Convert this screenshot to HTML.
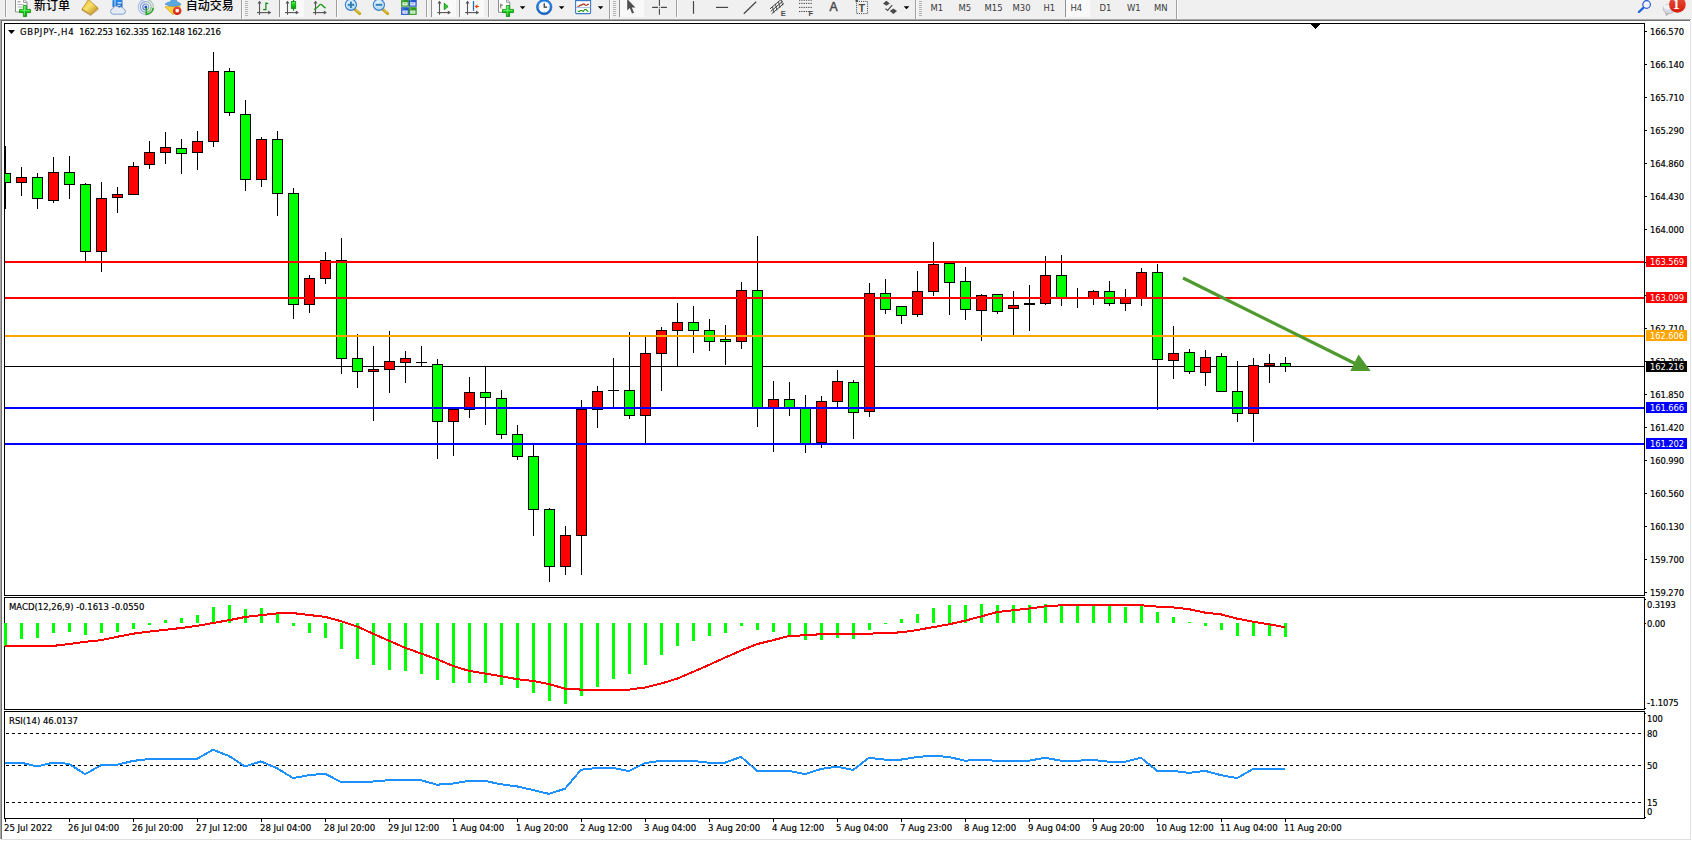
<!DOCTYPE html>
<html lang="zh-CN">
<head>
<meta charset="utf-8">
<title>GBPJPY-,H4</title>
<style>
html,body{margin:0;padding:0;background:#fff;}
body{width:1692px;height:841px;position:relative;overflow:hidden;font-family:"Liberation Sans","Noto Sans CJK SC",sans-serif;}
#g{position:absolute;left:0;top:0;display:block;}
.t{position:absolute;font-family:"DejaVu Sans Condensed","Liberation Sans",sans-serif;font-size:9.45px;line-height:12px;height:12px;color:#000;white-space:pre;-webkit-text-stroke:0.18px #000;}
.p{font-size:9.3px;letter-spacing:-0.1px;}
.tm{font-size:9.5px;}
.pb{position:absolute;left:1646px;width:41px;height:11px;overflow:hidden;}
.pb span{position:absolute;left:4px;top:0px;font-family:"DejaVu Sans Condensed","Liberation Sans",sans-serif;font-size:9.3px;letter-spacing:-0.1px;line-height:12px;color:#fff;white-space:pre;}
.tb{position:absolute;font-family:"DejaVu Sans Condensed","Liberation Sans",sans-serif;font-size:9.4px;line-height:12px;color:#3a3a3a;white-space:pre;top:2px;}
.cj{position:absolute;font-size:12px;line-height:16px;font-weight:500;color:#000;white-space:pre;font-family:"Liberation Sans","Noto Sans CJK SC",sans-serif;}
.ic{position:absolute;color:#4a4a4a;white-space:pre;font-family:"Liberation Sans",sans-serif;}
</style>
</head>
<body>
<svg id="g" width="1692" height="841" viewBox="0 0 1692 841" shape-rendering="crispEdges">
<rect x="0" y="0" width="1692" height="841" fill="#fff"/>
<rect x="0" y="0" width="1692" height="19" fill="#f0f0f0"/>
<rect x="0" y="19" width="1691" height="1" fill="#a8a8a8"/>
<rect x="0" y="20" width="1690" height="1" fill="#6e6e6e"/>
<rect x="0" y="20" width="1" height="819" fill="#a8a8a8"/>
<rect x="1" y="20" width="1" height="819" fill="#707070"/>
<rect x="1690" y="21" width="1" height="819" fill="#e0e0e0"/>
<rect x="1" y="839" width="1690" height="1" fill="#e0e0e0"/>
<rect x="5" y="366" width="1640" height="1" fill="#000"/>
<clipPath id="cp"><rect x="5" y="24" width="1639" height="571"/></clipPath>
<g id="candles" clip-path="url(#cp)">
<rect x="5" y="146" width="1" height="63" fill="#000"/>
<rect x="0" y="173" width="11" height="10" fill="#000"/>
<rect x="1" y="174" width="9" height="8" fill="#00ff00"/>
<rect x="21" y="167" width="1" height="29" fill="#000"/>
<rect x="16" y="177" width="11" height="6" fill="#000"/>
<rect x="17" y="178" width="9" height="4" fill="#ff0000"/>
<rect x="37" y="173" width="1" height="36" fill="#000"/>
<rect x="32" y="177" width="11" height="22" fill="#000"/>
<rect x="33" y="178" width="9" height="20" fill="#00ff00"/>
<rect x="53" y="157" width="1" height="46" fill="#000"/>
<rect x="48" y="172" width="11" height="29" fill="#000"/>
<rect x="49" y="173" width="9" height="27" fill="#ff0000"/>
<rect x="69" y="156" width="1" height="43" fill="#000"/>
<rect x="64" y="172" width="11" height="13" fill="#000"/>
<rect x="65" y="173" width="9" height="11" fill="#00ff00"/>
<rect x="85" y="183" width="1" height="78" fill="#000"/>
<rect x="80" y="184" width="11" height="68" fill="#000"/>
<rect x="81" y="185" width="9" height="66" fill="#00ff00"/>
<rect x="101" y="182" width="1" height="90" fill="#000"/>
<rect x="96" y="198" width="11" height="54" fill="#000"/>
<rect x="97" y="199" width="9" height="52" fill="#ff0000"/>
<rect x="117" y="187" width="1" height="26" fill="#000"/>
<rect x="112" y="194" width="11" height="4" fill="#000"/>
<rect x="113" y="195" width="9" height="2" fill="#ff0000"/>
<rect x="133" y="162" width="1" height="33" fill="#000"/>
<rect x="128" y="166" width="11" height="29" fill="#000"/>
<rect x="129" y="167" width="9" height="27" fill="#ff0000"/>
<rect x="149" y="141" width="1" height="28" fill="#000"/>
<rect x="144" y="152" width="11" height="13" fill="#000"/>
<rect x="145" y="153" width="9" height="11" fill="#ff0000"/>
<rect x="165" y="132" width="1" height="32" fill="#000"/>
<rect x="160" y="147" width="11" height="6" fill="#000"/>
<rect x="161" y="148" width="9" height="4" fill="#ff0000"/>
<rect x="181" y="139" width="1" height="35" fill="#000"/>
<rect x="176" y="148" width="11" height="6" fill="#000"/>
<rect x="177" y="149" width="9" height="4" fill="#00ff00"/>
<rect x="197" y="131" width="1" height="39" fill="#000"/>
<rect x="192" y="141" width="11" height="12" fill="#000"/>
<rect x="193" y="142" width="9" height="10" fill="#ff0000"/>
<rect x="213" y="52" width="1" height="95" fill="#000"/>
<rect x="208" y="71" width="11" height="71" fill="#000"/>
<rect x="209" y="72" width="9" height="69" fill="#ff0000"/>
<rect x="229" y="68" width="1" height="48" fill="#000"/>
<rect x="224" y="71" width="11" height="42" fill="#000"/>
<rect x="225" y="72" width="9" height="40" fill="#00ff00"/>
<rect x="245" y="100" width="1" height="91" fill="#000"/>
<rect x="240" y="114" width="11" height="66" fill="#000"/>
<rect x="241" y="115" width="9" height="64" fill="#00ff00"/>
<rect x="261" y="137" width="1" height="50" fill="#000"/>
<rect x="256" y="139" width="11" height="41" fill="#000"/>
<rect x="257" y="140" width="9" height="39" fill="#ff0000"/>
<rect x="277" y="131" width="1" height="85" fill="#000"/>
<rect x="272" y="139" width="11" height="55" fill="#000"/>
<rect x="273" y="140" width="9" height="53" fill="#00ff00"/>
<rect x="293" y="188" width="1" height="131" fill="#000"/>
<rect x="288" y="193" width="11" height="112" fill="#000"/>
<rect x="289" y="194" width="9" height="110" fill="#00ff00"/>
<rect x="309" y="275" width="1" height="38" fill="#000"/>
<rect x="304" y="278" width="11" height="27" fill="#000"/>
<rect x="305" y="279" width="9" height="25" fill="#ff0000"/>
<rect x="325" y="252" width="1" height="32" fill="#000"/>
<rect x="320" y="260" width="11" height="19" fill="#000"/>
<rect x="321" y="261" width="9" height="17" fill="#ff0000"/>
<rect x="341" y="238" width="1" height="136" fill="#000"/>
<rect x="336" y="260" width="11" height="99" fill="#000"/>
<rect x="337" y="261" width="9" height="97" fill="#00ff00"/>
<rect x="357" y="334" width="1" height="54" fill="#000"/>
<rect x="352" y="358" width="11" height="14" fill="#000"/>
<rect x="353" y="359" width="9" height="12" fill="#00ff00"/>
<rect x="373" y="346" width="1" height="75" fill="#000"/>
<rect x="368" y="369" width="11" height="3" fill="#000"/>
<rect x="369" y="370" width="9" height="1" fill="#ff0000"/>
<rect x="389" y="331" width="1" height="62" fill="#000"/>
<rect x="384" y="361" width="11" height="9" fill="#000"/>
<rect x="385" y="362" width="9" height="7" fill="#ff0000"/>
<rect x="405" y="351" width="1" height="32" fill="#000"/>
<rect x="400" y="358" width="11" height="5" fill="#000"/>
<rect x="401" y="359" width="9" height="3" fill="#ff0000"/>
<rect x="421" y="346" width="1" height="20" fill="#000"/>
<rect x="416" y="362" width="11" height="1" fill="#000"/>
<rect x="437" y="359" width="1" height="100" fill="#000"/>
<rect x="432" y="364" width="11" height="58" fill="#000"/>
<rect x="433" y="365" width="9" height="56" fill="#00ff00"/>
<rect x="453" y="409" width="1" height="47" fill="#000"/>
<rect x="448" y="409" width="11" height="13" fill="#000"/>
<rect x="449" y="410" width="9" height="11" fill="#ff0000"/>
<rect x="469" y="377" width="1" height="41" fill="#000"/>
<rect x="464" y="392" width="11" height="18" fill="#000"/>
<rect x="465" y="393" width="9" height="16" fill="#ff0000"/>
<rect x="485" y="367" width="1" height="58" fill="#000"/>
<rect x="480" y="392" width="11" height="6" fill="#000"/>
<rect x="481" y="393" width="9" height="4" fill="#00ff00"/>
<rect x="501" y="390" width="1" height="49" fill="#000"/>
<rect x="496" y="398" width="11" height="37" fill="#000"/>
<rect x="497" y="399" width="9" height="35" fill="#00ff00"/>
<rect x="517" y="425" width="1" height="35" fill="#000"/>
<rect x="512" y="434" width="11" height="23" fill="#000"/>
<rect x="513" y="435" width="9" height="21" fill="#00ff00"/>
<rect x="533" y="445" width="1" height="91" fill="#000"/>
<rect x="528" y="456" width="11" height="54" fill="#000"/>
<rect x="529" y="457" width="9" height="52" fill="#00ff00"/>
<rect x="549" y="508" width="1" height="74" fill="#000"/>
<rect x="544" y="509" width="11" height="58" fill="#000"/>
<rect x="545" y="510" width="9" height="56" fill="#00ff00"/>
<rect x="565" y="526" width="1" height="49" fill="#000"/>
<rect x="560" y="535" width="11" height="32" fill="#000"/>
<rect x="561" y="536" width="9" height="30" fill="#ff0000"/>
<rect x="581" y="400" width="1" height="175" fill="#000"/>
<rect x="576" y="409" width="11" height="127" fill="#000"/>
<rect x="577" y="410" width="9" height="125" fill="#ff0000"/>
<rect x="597" y="386" width="1" height="42" fill="#000"/>
<rect x="592" y="391" width="11" height="19" fill="#000"/>
<rect x="593" y="392" width="9" height="17" fill="#ff0000"/>
<rect x="613" y="358" width="1" height="50" fill="#000"/>
<rect x="608" y="390" width="11" height="1" fill="#000"/>
<rect x="629" y="332" width="1" height="87" fill="#000"/>
<rect x="624" y="390" width="11" height="26" fill="#000"/>
<rect x="625" y="391" width="9" height="24" fill="#00ff00"/>
<rect x="645" y="337" width="1" height="106" fill="#000"/>
<rect x="640" y="353" width="11" height="63" fill="#000"/>
<rect x="641" y="354" width="9" height="61" fill="#ff0000"/>
<rect x="661" y="327" width="1" height="64" fill="#000"/>
<rect x="656" y="330" width="11" height="24" fill="#000"/>
<rect x="657" y="331" width="9" height="22" fill="#ff0000"/>
<rect x="677" y="303" width="1" height="63" fill="#000"/>
<rect x="672" y="322" width="11" height="9" fill="#000"/>
<rect x="673" y="323" width="9" height="7" fill="#ff0000"/>
<rect x="693" y="306" width="1" height="47" fill="#000"/>
<rect x="688" y="322" width="11" height="9" fill="#000"/>
<rect x="689" y="323" width="9" height="7" fill="#00ff00"/>
<rect x="709" y="319" width="1" height="32" fill="#000"/>
<rect x="704" y="330" width="11" height="12" fill="#000"/>
<rect x="705" y="331" width="9" height="10" fill="#00ff00"/>
<rect x="725" y="325" width="1" height="40" fill="#000"/>
<rect x="720" y="339" width="11" height="3" fill="#000"/>
<rect x="721" y="340" width="9" height="1" fill="#00ff00"/>
<rect x="741" y="282" width="1" height="67" fill="#000"/>
<rect x="736" y="290" width="11" height="52" fill="#000"/>
<rect x="737" y="291" width="9" height="50" fill="#ff0000"/>
<rect x="757" y="236" width="1" height="191" fill="#000"/>
<rect x="752" y="290" width="11" height="118" fill="#000"/>
<rect x="753" y="291" width="9" height="116" fill="#00ff00"/>
<rect x="773" y="381" width="1" height="71" fill="#000"/>
<rect x="768" y="399" width="11" height="9" fill="#000"/>
<rect x="769" y="400" width="9" height="7" fill="#ff0000"/>
<rect x="789" y="382" width="1" height="34" fill="#000"/>
<rect x="784" y="399" width="11" height="10" fill="#000"/>
<rect x="785" y="400" width="9" height="8" fill="#00ff00"/>
<rect x="805" y="395" width="1" height="58" fill="#000"/>
<rect x="800" y="408" width="11" height="36" fill="#000"/>
<rect x="801" y="409" width="9" height="34" fill="#00ff00"/>
<rect x="821" y="396" width="1" height="52" fill="#000"/>
<rect x="816" y="401" width="11" height="42" fill="#000"/>
<rect x="817" y="402" width="9" height="40" fill="#ff0000"/>
<rect x="837" y="370" width="1" height="37" fill="#000"/>
<rect x="832" y="381" width="11" height="21" fill="#000"/>
<rect x="833" y="382" width="9" height="19" fill="#ff0000"/>
<rect x="853" y="380" width="1" height="59" fill="#000"/>
<rect x="848" y="382" width="11" height="31" fill="#000"/>
<rect x="849" y="383" width="9" height="29" fill="#00ff00"/>
<rect x="869" y="283" width="1" height="134" fill="#000"/>
<rect x="864" y="293" width="11" height="119" fill="#000"/>
<rect x="865" y="294" width="9" height="117" fill="#ff0000"/>
<rect x="885" y="279" width="1" height="35" fill="#000"/>
<rect x="880" y="293" width="11" height="17" fill="#000"/>
<rect x="881" y="294" width="9" height="15" fill="#00ff00"/>
<rect x="901" y="307" width="1" height="17" fill="#000"/>
<rect x="896" y="306" width="11" height="10" fill="#000"/>
<rect x="897" y="307" width="9" height="8" fill="#00ff00"/>
<rect x="917" y="271" width="1" height="46" fill="#000"/>
<rect x="912" y="291" width="11" height="24" fill="#000"/>
<rect x="913" y="292" width="9" height="22" fill="#ff0000"/>
<rect x="933" y="242" width="1" height="54" fill="#000"/>
<rect x="928" y="264" width="11" height="28" fill="#000"/>
<rect x="929" y="265" width="9" height="26" fill="#ff0000"/>
<rect x="949" y="262" width="1" height="53" fill="#000"/>
<rect x="944" y="263" width="11" height="20" fill="#000"/>
<rect x="945" y="264" width="9" height="18" fill="#00ff00"/>
<rect x="965" y="267" width="1" height="53" fill="#000"/>
<rect x="960" y="281" width="11" height="29" fill="#000"/>
<rect x="961" y="282" width="9" height="27" fill="#00ff00"/>
<rect x="981" y="294" width="1" height="47" fill="#000"/>
<rect x="976" y="295" width="11" height="16" fill="#000"/>
<rect x="977" y="296" width="9" height="14" fill="#ff0000"/>
<rect x="997" y="294" width="1" height="20" fill="#000"/>
<rect x="992" y="294" width="11" height="18" fill="#000"/>
<rect x="993" y="295" width="9" height="16" fill="#00ff00"/>
<rect x="1013" y="291" width="1" height="44" fill="#000"/>
<rect x="1008" y="305" width="11" height="4" fill="#000"/>
<rect x="1009" y="306" width="9" height="2" fill="#ff0000"/>
<rect x="1029" y="285" width="1" height="46" fill="#000"/>
<rect x="1024" y="303" width="11" height="2" fill="#000"/>
<rect x="1045" y="256" width="1" height="49" fill="#000"/>
<rect x="1040" y="275" width="11" height="29" fill="#000"/>
<rect x="1041" y="276" width="9" height="27" fill="#ff0000"/>
<rect x="1061" y="255" width="1" height="51" fill="#000"/>
<rect x="1056" y="275" width="11" height="24" fill="#000"/>
<rect x="1057" y="276" width="9" height="22" fill="#00ff00"/>
<rect x="1077" y="288" width="1" height="20" fill="#000"/>
<rect x="1072" y="297" width="11" height="1" fill="#000"/>
<rect x="1093" y="290" width="1" height="15" fill="#000"/>
<rect x="1088" y="291" width="11" height="8" fill="#000"/>
<rect x="1089" y="292" width="9" height="6" fill="#ff0000"/>
<rect x="1109" y="281" width="1" height="25" fill="#000"/>
<rect x="1104" y="291" width="11" height="13" fill="#000"/>
<rect x="1105" y="292" width="9" height="11" fill="#00ff00"/>
<rect x="1125" y="289" width="1" height="22" fill="#000"/>
<rect x="1120" y="297" width="11" height="7" fill="#000"/>
<rect x="1121" y="298" width="9" height="5" fill="#ff0000"/>
<rect x="1141" y="268" width="1" height="38" fill="#000"/>
<rect x="1136" y="272" width="11" height="27" fill="#000"/>
<rect x="1137" y="273" width="9" height="25" fill="#ff0000"/>
<rect x="1157" y="264" width="1" height="146" fill="#000"/>
<rect x="1152" y="272" width="11" height="88" fill="#000"/>
<rect x="1153" y="273" width="9" height="86" fill="#00ff00"/>
<rect x="1173" y="326" width="1" height="53" fill="#000"/>
<rect x="1168" y="353" width="11" height="8" fill="#000"/>
<rect x="1169" y="354" width="9" height="6" fill="#ff0000"/>
<rect x="1189" y="349" width="1" height="25" fill="#000"/>
<rect x="1184" y="352" width="11" height="20" fill="#000"/>
<rect x="1185" y="353" width="9" height="18" fill="#00ff00"/>
<rect x="1205" y="350" width="1" height="36" fill="#000"/>
<rect x="1200" y="357" width="11" height="16" fill="#000"/>
<rect x="1201" y="358" width="9" height="14" fill="#ff0000"/>
<rect x="1221" y="353" width="1" height="39" fill="#000"/>
<rect x="1216" y="356" width="11" height="36" fill="#000"/>
<rect x="1217" y="357" width="9" height="34" fill="#00ff00"/>
<rect x="1237" y="361" width="1" height="61" fill="#000"/>
<rect x="1232" y="391" width="11" height="23" fill="#000"/>
<rect x="1233" y="392" width="9" height="21" fill="#00ff00"/>
<rect x="1253" y="358" width="1" height="84" fill="#000"/>
<rect x="1248" y="365" width="11" height="49" fill="#000"/>
<rect x="1249" y="366" width="9" height="47" fill="#ff0000"/>
<rect x="1269" y="354" width="1" height="29" fill="#000"/>
<rect x="1264" y="363" width="11" height="3" fill="#000"/>
<rect x="1265" y="364" width="9" height="1" fill="#ff0000"/>
<rect x="1285" y="357" width="1" height="15" fill="#000"/>
<rect x="1280" y="363" width="11" height="4" fill="#000"/>
<rect x="1281" y="364" width="9" height="2" fill="#00ff00"/>
</g>
<rect x="5" y="261" width="1640" height="2" fill="#ff0000"/>
<rect x="5" y="297" width="1640" height="2" fill="#ff0000"/>
<rect x="5" y="335" width="1640" height="2" fill="#ffa500"/>
<rect x="5" y="407" width="1640" height="2" fill="#0000ff"/>
<rect x="5" y="443" width="1640" height="2" fill="#0000ff"/>
<line x1="1183" y1="278" x2="1357" y2="364.5" stroke="#4e9a2f" stroke-width="3.2" shape-rendering="auto"/>
<polygon points="1358.5,354.6 1350.3,370.9 1370.7,370.9" fill="#4e9a2f" shape-rendering="auto"/>
<polygon points="8,30 15,30 11.5,34" fill="#000" shape-rendering="auto"/>
<polygon points="1310,24 1320,24 1315,29" fill="#000"/>
<rect x="4" y="23" width="1641" height="1" fill="#000"/>
<rect x="4" y="595" width="1641" height="1" fill="#000"/>
<rect x="4" y="23" width="1" height="573" fill="#000"/>
<rect x="1644" y="23" width="1" height="573" fill="#000"/>
<rect x="4" y="597" width="1641" height="1" fill="#000"/>
<rect x="4" y="709" width="1641" height="1" fill="#000"/>
<rect x="4" y="597" width="1" height="113" fill="#000"/>
<rect x="1644" y="597" width="1" height="113" fill="#000"/>
<rect x="4" y="711" width="1641" height="1" fill="#000"/>
<rect x="4" y="818" width="1641" height="1" fill="#000"/>
<rect x="4" y="711" width="1" height="108" fill="#000"/>
<rect x="1644" y="711" width="1" height="108" fill="#000"/>
<g id="macd">
<rect x="4" y="623" width="3" height="23" fill="#00ff00"/>
<rect x="20" y="623" width="3" height="16" fill="#00ff00"/>
<rect x="36" y="623" width="3" height="15" fill="#00ff00"/>
<rect x="52" y="623" width="3" height="10" fill="#00ff00"/>
<rect x="68" y="623" width="3" height="9" fill="#00ff00"/>
<rect x="84" y="623" width="3" height="12" fill="#00ff00"/>
<rect x="100" y="623" width="3" height="10" fill="#00ff00"/>
<rect x="116" y="623" width="3" height="9" fill="#00ff00"/>
<rect x="132" y="623" width="3" height="6" fill="#00ff00"/>
<rect x="148" y="623" width="3" height="2" fill="#00ff00"/>
<rect x="164" y="620" width="3" height="3" fill="#00ff00"/>
<rect x="180" y="618" width="3" height="5" fill="#00ff00"/>
<rect x="196" y="615" width="3" height="8" fill="#00ff00"/>
<rect x="212" y="607" width="3" height="16" fill="#00ff00"/>
<rect x="228" y="605" width="3" height="18" fill="#00ff00"/>
<rect x="244" y="609" width="3" height="14" fill="#00ff00"/>
<rect x="260" y="608" width="3" height="15" fill="#00ff00"/>
<rect x="276" y="613" width="3" height="10" fill="#00ff00"/>
<rect x="292" y="623" width="3" height="3" fill="#00ff00"/>
<rect x="308" y="623" width="3" height="10" fill="#00ff00"/>
<rect x="324" y="623" width="3" height="15" fill="#00ff00"/>
<rect x="340" y="623" width="3" height="26" fill="#00ff00"/>
<rect x="356" y="623" width="3" height="36" fill="#00ff00"/>
<rect x="372" y="623" width="3" height="42" fill="#00ff00"/>
<rect x="388" y="623" width="3" height="47" fill="#00ff00"/>
<rect x="404" y="623" width="3" height="48" fill="#00ff00"/>
<rect x="420" y="623" width="3" height="51" fill="#00ff00"/>
<rect x="436" y="623" width="3" height="57" fill="#00ff00"/>
<rect x="452" y="623" width="3" height="60" fill="#00ff00"/>
<rect x="468" y="623" width="3" height="60" fill="#00ff00"/>
<rect x="484" y="623" width="3" height="60" fill="#00ff00"/>
<rect x="500" y="623" width="3" height="62" fill="#00ff00"/>
<rect x="516" y="623" width="3" height="65" fill="#00ff00"/>
<rect x="532" y="623" width="3" height="70" fill="#00ff00"/>
<rect x="548" y="623" width="3" height="78" fill="#00ff00"/>
<rect x="564" y="623" width="3" height="81" fill="#00ff00"/>
<rect x="580" y="623" width="3" height="73" fill="#00ff00"/>
<rect x="596" y="623" width="3" height="64" fill="#00ff00"/>
<rect x="612" y="623" width="3" height="56" fill="#00ff00"/>
<rect x="628" y="623" width="3" height="51" fill="#00ff00"/>
<rect x="644" y="623" width="3" height="42" fill="#00ff00"/>
<rect x="660" y="623" width="3" height="32" fill="#00ff00"/>
<rect x="676" y="623" width="3" height="23" fill="#00ff00"/>
<rect x="692" y="623" width="3" height="18" fill="#00ff00"/>
<rect x="708" y="623" width="3" height="13" fill="#00ff00"/>
<rect x="724" y="623" width="3" height="10" fill="#00ff00"/>
<rect x="740" y="623" width="3" height="3" fill="#00ff00"/>
<rect x="756" y="623" width="3" height="7" fill="#00ff00"/>
<rect x="772" y="623" width="3" height="9" fill="#00ff00"/>
<rect x="788" y="623" width="3" height="12" fill="#00ff00"/>
<rect x="804" y="623" width="3" height="17" fill="#00ff00"/>
<rect x="820" y="623" width="3" height="17" fill="#00ff00"/>
<rect x="836" y="623" width="3" height="15" fill="#00ff00"/>
<rect x="852" y="623" width="3" height="16" fill="#00ff00"/>
<rect x="868" y="623" width="3" height="7" fill="#00ff00"/>
<rect x="884" y="623" width="3" height="1" fill="#00ff00"/>
<rect x="900" y="619" width="3" height="4" fill="#00ff00"/>
<rect x="916" y="614" width="3" height="9" fill="#00ff00"/>
<rect x="932" y="608" width="3" height="15" fill="#00ff00"/>
<rect x="948" y="605" width="3" height="18" fill="#00ff00"/>
<rect x="964" y="605" width="3" height="18" fill="#00ff00"/>
<rect x="980" y="604" width="3" height="19" fill="#00ff00"/>
<rect x="996" y="605" width="3" height="18" fill="#00ff00"/>
<rect x="1012" y="605" width="3" height="18" fill="#00ff00"/>
<rect x="1028" y="605" width="3" height="18" fill="#00ff00"/>
<rect x="1044" y="604" width="3" height="19" fill="#00ff00"/>
<rect x="1060" y="604" width="3" height="19" fill="#00ff00"/>
<rect x="1076" y="605" width="3" height="18" fill="#00ff00"/>
<rect x="1092" y="605" width="3" height="18" fill="#00ff00"/>
<rect x="1108" y="605" width="3" height="18" fill="#00ff00"/>
<rect x="1124" y="607" width="3" height="16" fill="#00ff00"/>
<rect x="1140" y="605" width="3" height="18" fill="#00ff00"/>
<rect x="1156" y="612" width="3" height="11" fill="#00ff00"/>
<rect x="1172" y="617" width="3" height="6" fill="#00ff00"/>
<rect x="1188" y="622" width="3" height="1" fill="#00ff00"/>
<rect x="1204" y="623" width="3" height="3" fill="#00ff00"/>
<rect x="1220" y="623" width="3" height="7" fill="#00ff00"/>
<rect x="1236" y="623" width="3" height="13" fill="#00ff00"/>
<rect x="1252" y="623" width="3" height="13" fill="#00ff00"/>
<rect x="1268" y="623" width="3" height="13" fill="#00ff00"/>
<rect x="1284" y="623" width="3" height="14" fill="#00ff00"/>
<polyline points="5,645.9 21,645.9 37,645.9 53,645.9 69,644.1 85,641.8 101,640.2 117,636.8 133,633.7 149,631.6 165,629.8 181,628.0 197,625.9 213,623.0 229,620.2 245,617.0 261,615.2 277,613.4 293,613.1 309,615.0 325,616.8 341,621.2 357,626.4 373,633.7 389,640.7 405,647.7 421,653.5 437,659.2 453,665.9 469,670.9 485,673.5 501,676.1 517,679.2 533,681.0 549,684.1 565,688.6 581,689.6 597,689.6 613,689.6 629,689.6 645,687.5 661,683.6 677,678.7 693,671.9 709,664.9 725,657.6 741,650.6 757,644.1 773,640.2 789,636.0 805,635.3 821,634.2 837,633.7 853,633.7 869,633.7 885,632.9 901,632.4 917,630.0 933,627.2 949,624.3 965,620.7 981,616.5 997,612.1 1013,610.3 1029,608.5 1045,606.4 1061,605.3 1077,605.1 1093,605.1 1109,605.1 1125,605.1 1141,605.3 1157,606.6 1173,607.4 1189,609.2 1205,612.6 1221,614.4 1237,618.6 1253,621.7 1269,624.3 1285,627.2" fill="none" stroke="#ff0000" stroke-width="2" stroke-linejoin="round"/>
</g>
<line x1="6" y1="733.5" x2="1644" y2="733.5" stroke="#000" stroke-width="1" stroke-dasharray="3 3"/>
<line x1="6" y1="765.5" x2="1644" y2="765.5" stroke="#000" stroke-width="1" stroke-dasharray="3 3"/>
<line x1="6" y1="802.5" x2="1644" y2="802.5" stroke="#000" stroke-width="1" stroke-dasharray="3 3"/>
<polyline points="5,762.7 21,762.7 37,766.4 53,762.7 69,763.8 85,774.2 101,765.3 117,764.8 133,760.9 149,759.1 165,758.8 181,758.8 197,758.8 213,749.7 229,756.0 245,766.4 261,761.4 277,768.2 293,778.1 309,775.2 325,773.7 341,782.0 357,782.0 373,781.5 389,780.2 405,779.9 421,780.2 437,784.7 453,783.5 469,780.9 485,780.9 501,784.3 517,786.4 533,790.0 549,793.9 565,788.7 581,769.8 597,767.9 613,767.9 629,771.1 645,763.0 661,760.9 677,760.9 693,760.9 709,762.7 725,762.7 741,756.8 757,770.8 773,770.8 789,770.8 805,774.2 821,769.0 837,766.6 853,770.0 869,757.8 885,759.6 901,759.6 917,757.0 933,755.7 949,757.0 965,760.7 981,759.6 997,760.9 1013,760.9 1029,760.7 1045,757.8 1061,760.7 1077,760.7 1093,759.9 1109,761.7 1125,761.7 1141,757.8 1157,770.8 1173,770.8 1189,772.9 1205,770.8 1221,775.2 1237,778.1 1253,769.0 1269,768.5 1285,768.5" fill="none" stroke="#1e90ff" stroke-width="2" stroke-linejoin="round"/>
<rect x="5" y="819" width="1" height="3" fill="#000"/>
<rect x="69" y="819" width="1" height="3" fill="#000"/>
<rect x="133" y="819" width="1" height="3" fill="#000"/>
<rect x="197" y="819" width="1" height="3" fill="#000"/>
<rect x="261" y="819" width="1" height="3" fill="#000"/>
<rect x="325" y="819" width="1" height="3" fill="#000"/>
<rect x="389" y="819" width="1" height="3" fill="#000"/>
<rect x="453" y="819" width="1" height="3" fill="#000"/>
<rect x="517" y="819" width="1" height="3" fill="#000"/>
<rect x="581" y="819" width="1" height="3" fill="#000"/>
<rect x="645" y="819" width="1" height="3" fill="#000"/>
<rect x="709" y="819" width="1" height="3" fill="#000"/>
<rect x="773" y="819" width="1" height="3" fill="#000"/>
<rect x="837" y="819" width="1" height="3" fill="#000"/>
<rect x="901" y="819" width="1" height="3" fill="#000"/>
<rect x="965" y="819" width="1" height="3" fill="#000"/>
<rect x="1029" y="819" width="1" height="3" fill="#000"/>
<rect x="1093" y="819" width="1" height="3" fill="#000"/>
<rect x="1157" y="819" width="1" height="3" fill="#000"/>
<rect x="1221" y="819" width="1" height="3" fill="#000"/>
<rect x="1285" y="819" width="1" height="3" fill="#000"/>
<rect x="1645" y="31" width="2" height="1" fill="#000"/>
<rect x="1645" y="64" width="2" height="1" fill="#000"/>
<rect x="1645" y="97" width="2" height="1" fill="#000"/>
<rect x="1645" y="130" width="2" height="1" fill="#000"/>
<rect x="1645" y="163" width="2" height="1" fill="#000"/>
<rect x="1645" y="196" width="2" height="1" fill="#000"/>
<rect x="1645" y="229" width="2" height="1" fill="#000"/>
<rect x="1645" y="262" width="2" height="1" fill="#000"/>
<rect x="1645" y="295" width="2" height="1" fill="#000"/>
<rect x="1645" y="328" width="2" height="1" fill="#000"/>
<rect x="1645" y="361" width="2" height="1" fill="#000"/>
<rect x="1645" y="394" width="2" height="1" fill="#000"/>
<rect x="1645" y="427" width="2" height="1" fill="#000"/>
<rect x="1645" y="460" width="2" height="1" fill="#000"/>
<rect x="1645" y="493" width="2" height="1" fill="#000"/>
<rect x="1645" y="526" width="2" height="1" fill="#000"/>
<rect x="1645" y="559" width="2" height="1" fill="#000"/>
<rect x="1645" y="592" width="2" height="1" fill="#000"/>
<rect x="1645" y="623" width="1" height="1" fill="#000"/>
<rect x="1645" y="599" width="1" height="1" fill="#000"/>
<rect x="1645" y="708" width="1" height="1" fill="#000"/>
<rect x="1645" y="713" width="1" height="1" fill="#000"/>
<rect x="1645" y="817" width="1" height="1" fill="#000"/>
<defs><linearGradient id="gp" x1="0" y1="0" x2="0" y2="1"><stop offset="0" stop-color="#5cf05c"/><stop offset="0.5" stop-color="#12d012"/><stop offset="1" stop-color="#0a9a0a"/></linearGradient><linearGradient id="gold" x1="0" y1="0" x2="1" y2="1"><stop offset="0" stop-color="#e8b830"/><stop offset="0.45" stop-color="#f8e068"/><stop offset="1" stop-color="#b88010"/></linearGradient><linearGradient id="blu" x1="0" y1="0" x2="0" y2="1"><stop offset="0" stop-color="#2f8fe8"/><stop offset="1" stop-color="#1462c8"/></linearGradient><linearGradient id="redg" x1="0" y1="0" x2="0" y2="1"><stop offset="0" stop-color="#e8503a"/><stop offset="1" stop-color="#d41c0c"/></linearGradient><radialGradient id="lens" cx="0.4" cy="0.35" r="0.7"><stop offset="0" stop-color="#eaf7ff"/><stop offset="1" stop-color="#a4d2f0"/></radialGradient></defs>
<g shape-rendering="auto">
<rect x="5" y="0" width="1" height="17" fill="#a0a0a0"/>
<rect x="6" y="0" width="1" height="17" fill="#fbfbfb"/>
<path d="M15.5,-1 H23.5 L27,2.5 V12 H15.5 Z" fill="#fff" stroke="#8c8c8c" stroke-width="1"/>
<path d="M23.5,-1 V2.5 H27" fill="none" stroke="#8c8c8c" stroke-width="0.8"/>
<rect x="17.5" y="1.2" width="3" height="1.2" fill="#9a9a9a"/><rect x="17.5" y="4" width="6" height="1" fill="#b0b0b0"/><rect x="17.5" y="6.5" width="5" height="1" fill="#b0b0b0"/>
<path d="M23.4,5.5 h3.2 v3.9 h3.9 v3.2 h-3.9 v3.9 h-3.2 v-3.9 h-3.9 v-3.2 h3.9 z" fill="url(#gp)" stroke="#0c8c0c" stroke-width="0.8"/>
<path d="M24.3,6.4 v9.2 M20.4,10.3 h9.2" fill="none" stroke="#a0ffa0" stroke-width="0.8" opacity="0.7"/>
<path d="M88.5,-0.5 L98,8 L90.5,14.6 L82,9.2 Z" fill="url(#gold)" stroke="#b07c10" stroke-width="0.7"/>
<path d="M98,8 L98.2,9.6 L90.6,15.4 L82,10.3 L82,9.2 L90.5,14.6 Z" fill="#e8cf9a" stroke="#a07018" stroke-width="0.5"/>
<rect x="112.5" y="-1" width="10" height="8.5" rx="1" fill="url(#blu)"/>
<rect x="114" y="0" width="2" height="7" fill="#8fc8ff" opacity="0.7"/>
<rect x="117.5" y="2.3" width="4" height="1.2" fill="#fff"/><rect x="117.5" y="4.8" width="3" height="1" fill="#d8ecff"/>
<path d="M113,14.2 a2.8,2.8 0 0 1 -0.3,-5.5 a3.6,3.6 0 0 1 6.4,-1.2 a3,3 0 0 1 4.6,1.5 a2.7,2.7 0 0 1 -0.6,5.2 z" fill="#e4ebf4" stroke="#7c98c8" stroke-width="0.9"/>
<g fill="none" stroke-width="1.1"><path d="M145.8,4 A3,3 0 1 0 145.8,10" stroke="#5a84d8"/><path d="M145.8,1.6 A5.4,5.4 0 1 0 145.8,12.4" stroke="#7c9ce0"/><path d="M145.8,-0.6 A7.6,7.6 0 1 0 145.8,14.6" stroke="#a8bcea"/><path d="M145.8,4 A3,3 0 0 1 148.8,7" stroke="#8aa8c8"/><path d="M145.8,1.6 A5.4,5.4 0 0 1 151.2,7" stroke="#9ab8c0"/><path d="M145.8,-0.6 A7.6,7.6 0 0 1 153.4,7" stroke="#a8c4b8"/><path d="M148.8,7 A3,3 0 0 1 145.8,10" stroke="#7cc07c"/><path d="M151.2,7 A5.4,5.4 0 0 1 145.8,12.4" stroke="#6cb86c"/></g>
<path d="M146.3,7 V14.4 A7.5,7.5 0 0 0 153.3,7.6" fill="none" stroke="#2ea02e" stroke-width="1.6"/>
<circle cx="145.8" cy="7" r="1.5" fill="#2858c8"/>
<path d="M164.8,6.8 L173,14.8 L179.5,9 L180,5.5 Z" fill="#f4d040" stroke="#d8a010" stroke-width="0.6"/>
<path d="M165,4.2 Q168,1.5 170.5,2 L171.5,-1 H176 L177,2 Q180,2.4 181,4.6 Q173,8.2 165,4.2 Z" fill="#58a8e0" stroke="#3c88c8" stroke-width="0.6"/>
<circle cx="177.2" cy="10.7" r="4.3" fill="url(#redg)"/>
<rect x="175.6" y="9.1" width="3.2" height="3.2" fill="#fff"/>
<rect x="241" y="0" width="1" height="19" fill="#a0a0a0"/><rect x="242" y="0" width="1" height="19" fill="#fdfdfd"/>
<rect x="245" y="1" width="3" height="1" fill="#b4b4b4"/>
<rect x="245" y="3" width="3" height="1" fill="#b4b4b4"/>
<rect x="245" y="5" width="3" height="1" fill="#b4b4b4"/>
<rect x="245" y="7" width="3" height="1" fill="#b4b4b4"/>
<rect x="245" y="9" width="3" height="1" fill="#b4b4b4"/>
<rect x="245" y="11" width="3" height="1" fill="#b4b4b4"/>
<rect x="245" y="13" width="3" height="1" fill="#b4b4b4"/>
<rect x="245" y="15" width="3" height="1" fill="#b4b4b4"/>
<g shape-rendering="auto" stroke="#555" fill="#555"><line x1="259.5" y1="1.5" x2="259.5" y2="14.8" stroke-width="1.1"/><line x1="257" y1="12.6" x2="270.5" y2="12.6" stroke-width="1.1"/><polygon points="257.5,3.6 259.5,0.8 261.5,3.6" stroke="none"/><polygon points="268.1,10.6 271.1,12.6 268.1,14.6" stroke="none"/></g>
<g stroke="#108810" stroke-width="1.2" fill="none"><path d="M265.9,2.6 V10.3 M263.2,9.7 H266 M266,3.3 H268.2"/></g>
<rect x="280" y="0" width="24" height="17" fill="#f9f9f9"/>
<rect x="279" y="0" width="1" height="17" fill="#909090"/>
<g shape-rendering="auto" stroke="#555" fill="#555"><line x1="287.5" y1="1.5" x2="287.5" y2="14.8" stroke-width="1.1"/><line x1="285" y1="12.6" x2="298.2" y2="12.6" stroke-width="1.1"/><polygon points="285.5,3.6 287.5,0.8 289.5,3.6" stroke="none"/><polygon points="295.8,10.6 298.8,12.6 295.8,14.6" stroke="none"/></g>
<line x1="293.5" y1="0" x2="293.5" y2="10.8" stroke="#0c8c0c" stroke-width="1.2"/>
<rect x="291.3" y="1.6" width="4.4" height="6.8" fill="url(#gp)" stroke="#0c8c0c" stroke-width="0.8"/>
<g shape-rendering="auto" stroke="#555" fill="#555"><line x1="315.5" y1="1.5" x2="315.5" y2="14.8" stroke-width="1.1"/><line x1="313" y1="12.6" x2="326.2" y2="12.6" stroke-width="1.1"/><polygon points="313.5,3.6 315.5,0.8 317.5,3.6" stroke="none"/><polygon points="323.8,10.6 326.8,12.6 323.8,14.6" stroke="none"/></g>
<path d="M314.2,9.6 Q317.5,7.5 320,4.6 Q321,4 322,5 Q324,7.2 325.6,8.1" fill="none" stroke="#1c9a1c" stroke-width="1.3"/>
<rect x="336" y="0" width="1" height="17" fill="#a0a0a0"/>
<rect x="337" y="0" width="1" height="17" fill="#fbfbfb"/>
<line x1="354.9" y1="9.3" x2="359.7" y2="13.6" stroke="#c8a418" stroke-width="3" stroke-linecap="round"/>
<line x1="355.29999999999995" y1="9" x2="359.5" y2="12.8" stroke="#f0dc70" stroke-width="1"/>
<circle cx="350.9" cy="4.8" r="5.6" fill="url(#lens)" stroke="#3c80cc" stroke-width="1.1"/>
<rect x="347.7" y="3.8" width="6.4" height="2" fill="#3480b4"/>
<rect x="349.9" y="1.6" width="2" height="6.4" fill="#3480b4"/>
<line x1="382.9" y1="9.3" x2="387.7" y2="13.6" stroke="#c8a418" stroke-width="3" stroke-linecap="round"/>
<line x1="383.29999999999995" y1="9" x2="387.5" y2="12.8" stroke="#f0dc70" stroke-width="1"/>
<circle cx="378.9" cy="4.8" r="5.6" fill="url(#lens)" stroke="#3c80cc" stroke-width="1.1"/>
<rect x="375.7" y="3.8" width="6.4" height="2" fill="#3480b4"/>
<rect x="401.1" y="-1" width="7.8" height="7.7" fill="#2e9a20"/>
<rect x="402.40000000000003" y="2.3" width="5.2" height="3.2" fill="#fff" opacity="0.95"/>
<rect x="403.40000000000003" y="3.3" width="3.2" height="1" fill="#2e9a20" opacity="0.55"/>
<rect x="402.40000000000003" y="0.30000000000000004" width="1" height="1" fill="#fff" opacity="0.6"/>
<rect x="408.9" y="-1" width="7.8" height="7.7" fill="#2458d0"/>
<rect x="410.2" y="2.3" width="5.2" height="3.2" fill="#fff" opacity="0.95"/>
<rect x="411.2" y="3.3" width="3.2" height="1" fill="#2458d0" opacity="0.55"/>
<rect x="410.2" y="0.30000000000000004" width="1" height="1" fill="#fff" opacity="0.6"/>
<rect x="401.1" y="7.2" width="7.8" height="7.7" fill="#2458d0"/>
<rect x="402.40000000000003" y="10.5" width="5.2" height="3.2" fill="#fff" opacity="0.95"/>
<rect x="403.40000000000003" y="11.5" width="3.2" height="1" fill="#2458d0" opacity="0.55"/>
<rect x="402.40000000000003" y="8.5" width="1" height="1" fill="#fff" opacity="0.6"/>
<rect x="408.9" y="7.2" width="7.8" height="7.7" fill="#2e9a20"/>
<rect x="410.2" y="10.5" width="5.2" height="3.2" fill="#fff" opacity="0.95"/>
<rect x="411.2" y="11.5" width="3.2" height="1" fill="#2e9a20" opacity="0.55"/>
<rect x="410.2" y="8.5" width="1" height="1" fill="#fff" opacity="0.6"/>
<rect x="426" y="0" width="1" height="17" fill="#a0a0a0"/>
<rect x="427" y="0" width="1" height="17" fill="#fbfbfb"/>
<rect x="432" y="0" width="24" height="17" fill="#f9f9f9"/>
<rect x="431" y="0" width="1" height="17" fill="#909090"/>
<g shape-rendering="auto" stroke="#555" fill="#555"><line x1="439.5" y1="1.5" x2="439.5" y2="14.8" stroke-width="1.1"/><line x1="437.3" y1="12.6" x2="450.2" y2="12.6" stroke-width="1.1"/><polygon points="437.5,3.6 439.5,0.8 441.5,3.6" stroke="none"/><polygon points="447.8,10.6 450.8,12.6 447.8,14.6" stroke="none"/></g>
<polygon points="444.3,3.3 448.1,6.5 444.3,9.7" fill="#38d038" stroke="#0c8c0c" stroke-width="0.9"/>
<rect x="460" y="0" width="24" height="17" fill="#f9f9f9"/>
<rect x="459" y="0" width="1" height="17" fill="#909090"/>
<g shape-rendering="auto" stroke="#555" fill="#555"><line x1="467.5" y1="1.5" x2="467.5" y2="14.8" stroke-width="1.1"/><line x1="465.1" y1="12.6" x2="478.4" y2="12.6" stroke-width="1.1"/><polygon points="465.5,3.6 467.5,0.8 469.5,3.6" stroke="none"/><polygon points="476.0,10.6 479.0,12.6 476.0,14.6" stroke="none"/></g>
<line x1="473.5" y1="1.1" x2="473.5" y2="10.8" stroke="#1c70b8" stroke-width="1.3"/>
<path d="M474.6,6.5 L477.4,4.3 V5.9 H479 V7.1 H477.4 V8.7 Z" fill="#e05010"/>
<rect x="488" y="0" width="1" height="17" fill="#a0a0a0"/>
<rect x="489" y="0" width="1" height="17" fill="#fbfbfb"/>
<path d="M498.5,-1 H506.5 L509.8,2.3 V12.3 H498.5 Z" fill="#fff" stroke="#8c8c8c" stroke-width="1"/>
<path d="M506.5,-1 V2.3 H509.8" fill="none" stroke="#8c8c8c" stroke-width="0.8"/>
<path d="M501,3.5 q-0.8,2.5 0,5 M501,5.2 h2" fill="none" stroke="#6a6048" stroke-width="0.9"/>
<path d="M506.4,5.5 h3.2 v3.9 h3.9 v3.2 h-3.9 v3.9 h-3.2 v-3.9 h-3.9 v-3.2 h3.9 z" fill="url(#gp)" stroke="#0c8c0c" stroke-width="0.8"/>
<path d="M507.3,6.4 v9.2 M503.4,10.3 h9.2" fill="none" stroke="#a0ffa0" stroke-width="0.8" opacity="0.7"/>
<polygon points="519.8,6.3 525.4,6.3 522.5999999999999,9.3" fill="#000" shape-rendering="auto"/>
<circle cx="544.2" cy="7" r="6.7" fill="#fff" stroke="url(#blu)" stroke-width="2.2"/>
<circle cx="544.2" cy="7" r="7.8" fill="none" stroke="#0c50a8" stroke-width="0.5"/>
<rect x="541" y="-1" width="6.4" height="1.6" fill="#1868c8"/>
<path d="M544.2,3.2 V7.2 H547.2" fill="none" stroke="#303030" stroke-width="1.2"/>
<g fill="#9ab4d0"><rect x="543.8" y="1.6" width="0.9" height="1.2"/><rect x="543.8" y="11.2" width="0.9" height="1.2"/><rect x="538.9" y="6.6" width="1.2" height="0.9"/><rect x="548.4" y="6.6" width="1.2" height="0.9"/></g>
<polygon points="558.8,6.3 564.4,6.3 561.5999999999999,9.3" fill="#000" shape-rendering="auto"/>
<rect x="575.6" y="-2" width="15" height="15.6" rx="1" fill="#fff" stroke="#3c78c8" stroke-width="1.1"/>
<rect x="575.6" y="-2" width="15" height="3.2" fill="#3c78c8"/>
<line x1="576" y1="7.6" x2="590.4" y2="7.6" stroke="#88a8d8" stroke-width="0.8"/>
<path d="M577.3,6.3 h1.8 l1,-1.2 h1.6 l1.2,-1 h1.4 l1,1.1 h1.5 l1,-1 h1.2" fill="none" stroke="#a02810" stroke-width="1.1"/>
<path d="M577.8,11.4 h1.6 l1,-0.9 h1.4 l1.4,1 l1.6,-2 h1.2 l2.2,2.2" fill="none" stroke="#189818" stroke-width="1.1"/>
<polygon points="597.8,6.3 603.4,6.3 600.5999999999999,9.3" fill="#000" shape-rendering="auto"/>
<rect x="609" y="0" width="1" height="19" fill="#a0a0a0"/><rect x="610" y="0" width="1" height="19" fill="#fdfdfd"/>
<rect x="613" y="1" width="3" height="1" fill="#b4b4b4"/>
<rect x="613" y="3" width="3" height="1" fill="#b4b4b4"/>
<rect x="613" y="5" width="3" height="1" fill="#b4b4b4"/>
<rect x="613" y="7" width="3" height="1" fill="#b4b4b4"/>
<rect x="613" y="9" width="3" height="1" fill="#b4b4b4"/>
<rect x="613" y="11" width="3" height="1" fill="#b4b4b4"/>
<rect x="613" y="13" width="3" height="1" fill="#b4b4b4"/>
<rect x="613" y="15" width="3" height="1" fill="#b4b4b4"/>
<rect x="620" y="0" width="24" height="17" fill="#f9f9f9"/>
<rect x="619" y="0" width="1" height="17" fill="#909090"/>
<path d="M627.2,-1 V10.4 L629.8,8 L632,13.6 L634,12.8 L631.8,7.4 H635.4 Z" fill="#505050"/>
<g stroke="#4a4a4a" stroke-width="1.1"><path d="M659.4,0 V6 M659.4,8.8 V14.8 M652.1,7.4 H658 M660.8,7.4 H666.9"/></g>
<rect x="659" y="7" width="0.9" height="0.9" fill="#4a4a4a"/>
<rect x="676" y="0" width="1" height="17" fill="#a0a0a0"/>
<rect x="677" y="0" width="1" height="17" fill="#fbfbfb"/>
<g stroke="#454545" stroke-width="1.2"><line x1="693.5" y1="1.1" x2="693.5" y2="13.8"/><line x1="716" y1="7.4" x2="728.1" y2="7.4"/><line x1="743.8" y1="13.7" x2="756.2" y2="1.8"/></g>
<g stroke="#454545" stroke-width="1"><path d="M770,8.8 L781.4,-0.8 M770.8,11.3 L782.8,1.2 M771.6,13.8 L784,3.4"/></g>
<g stroke="#454545" stroke-width="0.9"><path d="M772.4,6.4 L774,13 M775.4,3.9 L777,10.5 M778.4,1.4 L780,8 M781.2,-0.8 L782.6,5.4"/></g>
<line x1="799" y1="0.2" x2="812.4" y2="0.2" stroke="#454545" stroke-width="1" stroke-dasharray="1.3 1"/>
<line x1="799" y1="3.4" x2="812.4" y2="3.4" stroke="#454545" stroke-width="1" stroke-dasharray="1.3 1"/>
<line x1="799" y1="7.4" x2="812.4" y2="7.4" stroke="#454545" stroke-width="1" stroke-dasharray="1.3 1"/>
<line x1="799" y1="11.5" x2="812.4" y2="11.5" stroke="#454545" stroke-width="1" stroke-dasharray="1.3 1"/>
<rect x="856.6" y="1.4" width="11" height="12.2" fill="none" stroke="#454545" stroke-width="1" stroke-dasharray="1.1 1.1"/>
<rect x="855.5" y="0" width="2.4" height="1.8" fill="#454545"/>
<polygon points="886.4,0.8 889.8,3.6 886.4,5.8 883,3.6" fill="#4a4a4a"/>
<polygon points="893.4,8.4 897,11 893.4,14 889.8,11" fill="#4a4a4a"/>
<path d="M885.4,8.6 L887.6,10.4 L892.2,5.2" fill="none" stroke="#4a4a4a" stroke-width="1.2"/>
<polygon points="903.7,6.3 909.3000000000001,6.3 906.5,9.3" fill="#000" shape-rendering="auto"/>
<rect x="915" y="0" width="1" height="19" fill="#a0a0a0"/><rect x="916" y="0" width="1" height="19" fill="#fdfdfd"/>
<rect x="919" y="1" width="3" height="1" fill="#b4b4b4"/>
<rect x="919" y="3" width="3" height="1" fill="#b4b4b4"/>
<rect x="919" y="5" width="3" height="1" fill="#b4b4b4"/>
<rect x="919" y="7" width="3" height="1" fill="#b4b4b4"/>
<rect x="919" y="9" width="3" height="1" fill="#b4b4b4"/>
<rect x="919" y="11" width="3" height="1" fill="#b4b4b4"/>
<rect x="919" y="13" width="3" height="1" fill="#b4b4b4"/>
<rect x="919" y="15" width="3" height="1" fill="#b4b4b4"/>
<rect x="1066" y="0" width="24" height="17" fill="#f9f9f9"/>
<rect x="1065" y="0" width="1" height="17" fill="#909090"/>
<rect x="1176" y="0" width="1" height="19" fill="#a0a0a0"/><rect x="1177" y="0" width="1" height="19" fill="#fdfdfd"/>
<line x1="1643.3" y1="7.8" x2="1638.9" y2="12" stroke="#2466dc" stroke-width="2.4" stroke-linecap="round"/>
<circle cx="1646.6" cy="4.5" r="3.8" fill="#f4f6ff" stroke="#2458d0" stroke-width="1.2"/>
<polygon points="1665.2,12.2 1666.4,15.6 1669.4,13.2" fill="#c4c4cc" stroke="#9c9c9c" stroke-width="0.6"/>
<ellipse cx="1668.9" cy="8.9" rx="5.7" ry="4.7" fill="#d8d8e2" stroke="#b4b4b4" stroke-width="0.8"/>
<ellipse cx="1667.6" cy="7" rx="4" ry="2.4" fill="#f4f4f8" opacity="0.9"/>
<circle cx="1677.4" cy="4.5" r="8.3" fill="url(#redg)"/>
</g>
</svg>
<div class="t" style="left:20px;top:26px;"><span style="letter-spacing:0.78px">GBPJPY-,H4</span><span style="letter-spacing:-0.23px">&nbsp; 162.253 162.335 162.148 162.216</span></div>
<div class="t" style="left:9px;top:601px;">MACD(12,26,9) -0.1613 -0.0550</div>
<div class="t" style="left:9px;top:715px;">RSI(14) 46.0137</div>
<div class="t p" style="left:1650px;top:26px;">166.570</div>
<div class="t p" style="left:1650px;top:59px;">166.140</div>
<div class="t p" style="left:1650px;top:92px;">165.710</div>
<div class="t p" style="left:1650px;top:125px;">165.290</div>
<div class="t p" style="left:1650px;top:158px;">164.860</div>
<div class="t p" style="left:1650px;top:191px;">164.430</div>
<div class="t p" style="left:1650px;top:224px;">164.000</div>
<div class="t p" style="left:1650px;top:323px;">162.710</div>
<div class="t p" style="left:1650px;top:356px;">162.280</div>
<div class="t p" style="left:1650px;top:389px;">161.850</div>
<div class="t p" style="left:1650px;top:422px;">161.420</div>
<div class="t p" style="left:1650px;top:455px;">160.990</div>
<div class="t p" style="left:1650px;top:488px;">160.560</div>
<div class="t p" style="left:1650px;top:521px;">160.130</div>
<div class="t p" style="left:1650px;top:554px;">159.700</div>
<div class="t p" style="left:1650px;top:587px;">159.270</div>
<div class="pb" style="top:256px;background:#ff0000"><span>163.569</span></div>
<div class="pb" style="top:292px;background:#ff0000"><span>163.099</span></div>
<div class="pb" style="top:330px;background:#ffa500"><span>162.606</span></div>
<div class="pb" style="top:402px;background:#0000ff"><span>161.666</span></div>
<div class="pb" style="top:438px;background:#0000ff"><span>161.202</span></div>
<div class="pb" style="top:361px;background:#000"><span>162.216</span></div>
<div class="t p" style="left:1647px;top:599px;">0.3193</div>
<div class="t p" style="left:1647px;top:618px;">0.00</div>
<div class="t p" style="left:1647px;top:697px;">-1.1075</div>
<div class="t p" style="left:1647px;top:713px;">100</div>
<div class="t p" style="left:1647px;top:728px;">80</div>
<div class="t p" style="left:1647px;top:760px;">50</div>
<div class="t p" style="left:1647px;top:797px;">15</div>
<div class="t p" style="left:1647px;top:806px;">0</div>
<div class="t tm" style="left:4px;top:822px;">25 Jul 2022</div>
<div class="t tm" style="left:68px;top:822px;">26 Jul 04:00</div>
<div class="t tm" style="left:132px;top:822px;">26 Jul 20:00</div>
<div class="t tm" style="left:196px;top:822px;">27 Jul 12:00</div>
<div class="t tm" style="left:260px;top:822px;">28 Jul 04:00</div>
<div class="t tm" style="left:324px;top:822px;">28 Jul 20:00</div>
<div class="t tm" style="left:388px;top:822px;">29 Jul 12:00</div>
<div class="t tm" style="left:452px;top:822px;">1 Aug 04:00</div>
<div class="t tm" style="left:516px;top:822px;">1 Aug 20:00</div>
<div class="t tm" style="left:580px;top:822px;">2 Aug 12:00</div>
<div class="t tm" style="left:644px;top:822px;">3 Aug 04:00</div>
<div class="t tm" style="left:708px;top:822px;">3 Aug 20:00</div>
<div class="t tm" style="left:772px;top:822px;">4 Aug 12:00</div>
<div class="t tm" style="left:836px;top:822px;">5 Aug 04:00</div>
<div class="t tm" style="left:900px;top:822px;">7 Aug 23:00</div>
<div class="t tm" style="left:964px;top:822px;">8 Aug 12:00</div>
<div class="t tm" style="left:1028px;top:822px;">9 Aug 04:00</div>
<div class="t tm" style="left:1092px;top:822px;">9 Aug 20:00</div>
<div class="t tm" style="left:1156px;top:822px;">10 Aug 12:00</div>
<div class="t tm" style="left:1220px;top:822px;">11 Aug 04:00</div>
<div class="t tm" style="left:1284px;top:822px;">11 Aug 20:00</div>
<div class="cj" style="left:34px;top:-2px;">新订单</div>
<div class="cj" style="left:185.8px;top:-2px;">自动交易</div>
<div class="tb" style="left:930.5px;">M1</div>
<div class="tb" style="left:958.5px;">M5</div>
<div class="tb" style="left:984.5px;">M15</div>
<div class="tb" style="left:1012.5px;">M30</div>
<div class="tb" style="left:1043.5px;">H1</div>
<div class="tb" style="left:1070.5px;">H4</div>
<div class="tb" style="left:1099.5px;">D1</div>
<div class="tb" style="left:1127px;">W1</div>
<div class="tb" style="left:1154px;">MN</div>
<div class="ic" style="left:829.5px;top:1px;font-size:12.2px;line-height:13px;-webkit-text-stroke:0.45px #4a4a4a;">A</div>
<div class="ic" style="left:858.4px;top:2.6px;font-size:10.8px;line-height:11px;font-weight:bold;">T</div>
<div class="ic" style="left:780.8px;top:9.6px;font-size:7.5px;line-height:8px;font-weight:bold;">E</div>
<div class="ic" style="left:808.6px;top:9.6px;font-size:7.5px;line-height:8px;font-weight:bold;">F</div>
<div class="ic" style="left:1672.8px;top:-2.2px;font-size:14px;line-height:14px;color:#fff;font-weight:bold;font-family:'Liberation Serif',serif;">1</div>
</body>
</html>
